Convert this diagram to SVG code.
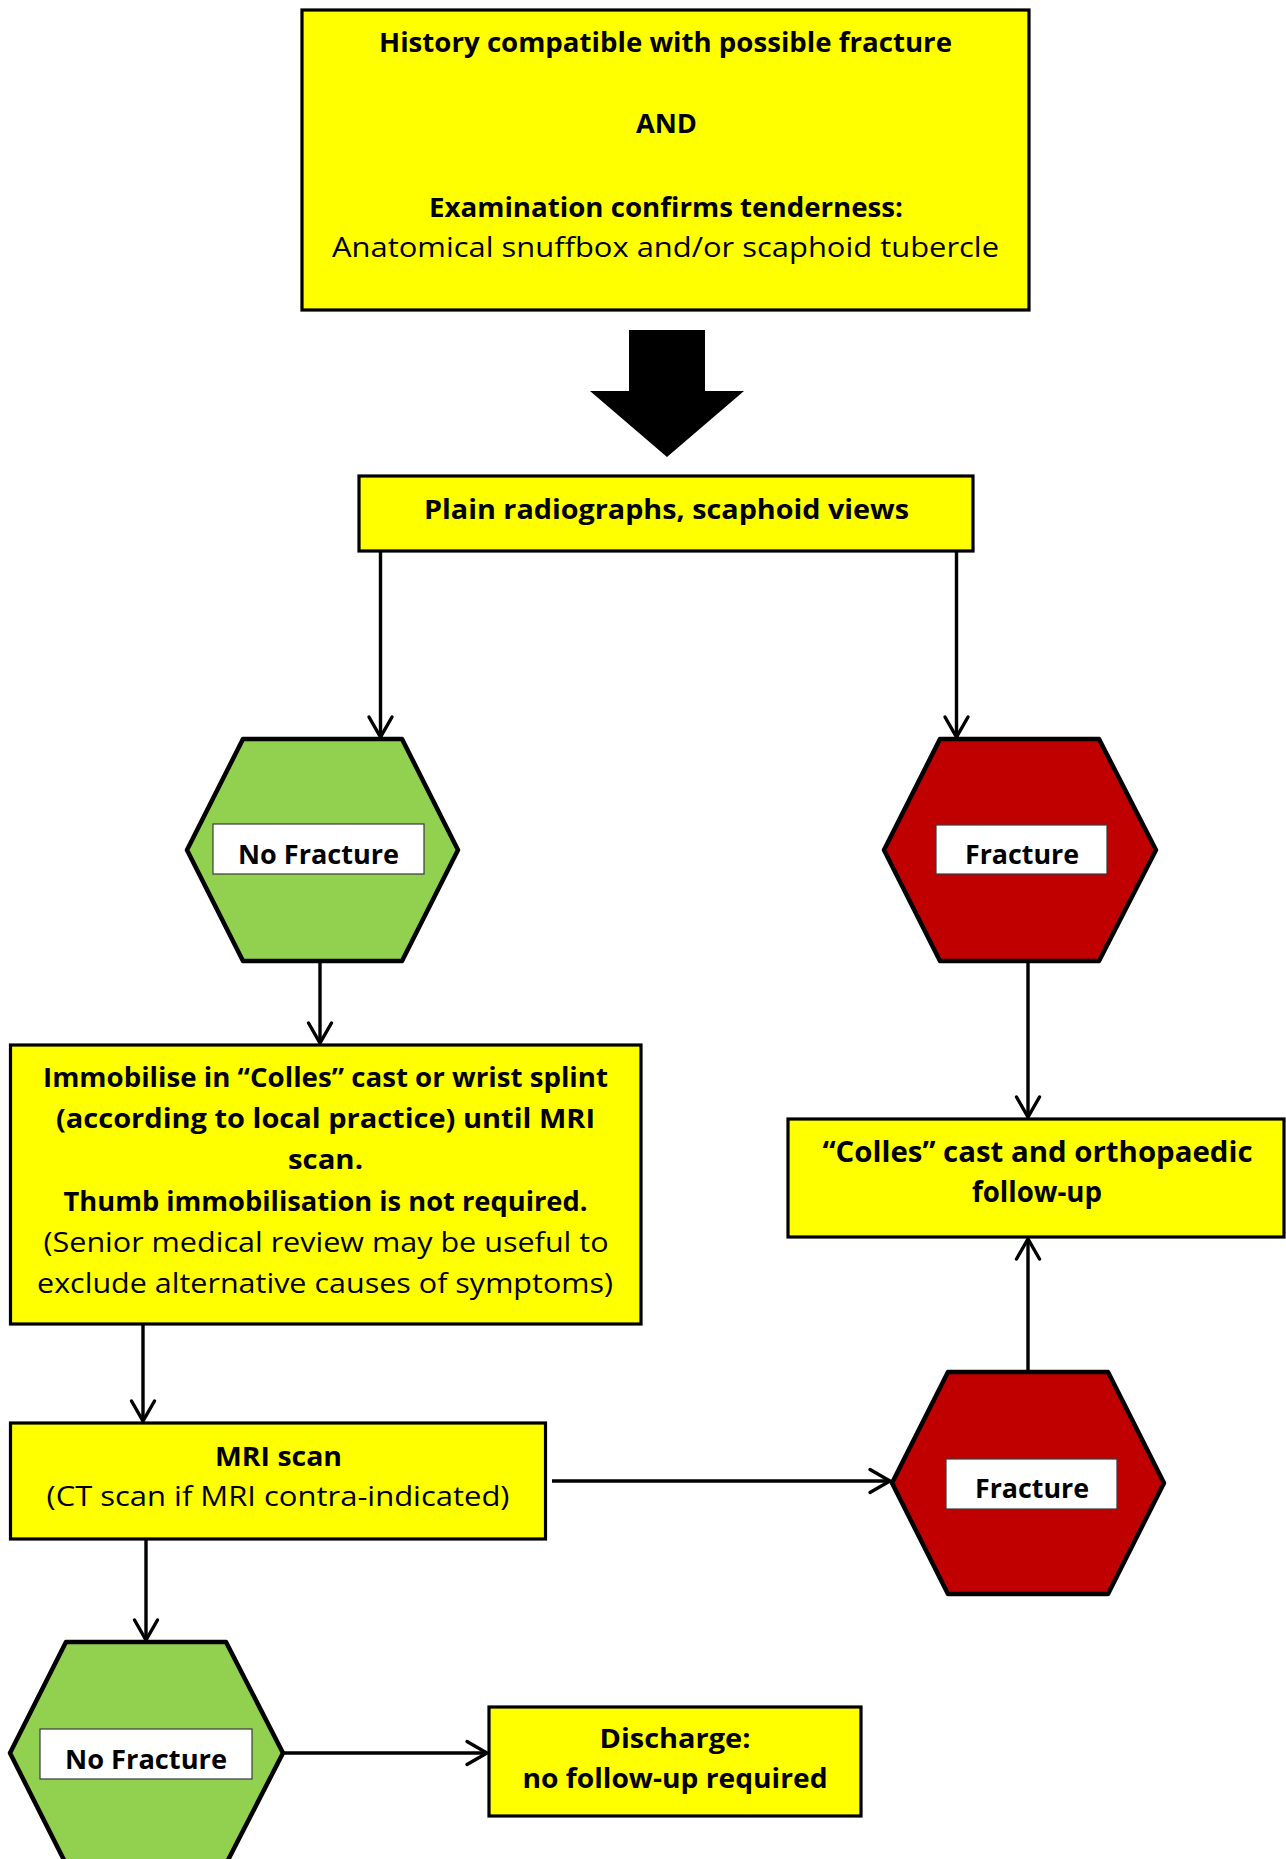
<svg xmlns="http://www.w3.org/2000/svg" width="1286" height="1859" viewBox="0 0 1286 1859">
<style>
  .box{fill:#FFFF00;stroke:#000;stroke-width:3.2}
  .hexg{fill:#92D050;stroke:#000;stroke-width:4.5;stroke-linejoin:round}
  .hexr{fill:#C00000;stroke:#000;stroke-width:4.5;stroke-linejoin:round}
  .lbl{fill:#fff;stroke:#3a3a3a;stroke-width:1.2}
  text{font-family:"Open Sans","DejaVu Sans",sans-serif;fill:#000;text-anchor:middle}
  .b{font-weight:700;font-size:26.5px}
  .r{font-weight:400;font-size:26.5px}
  .h{font-weight:700;font-size:27px}
  .c{font-weight:700;font-size:28px}
  .conn{fill:none;stroke:#000;stroke-width:3.4;marker-end:url(#arr)}
</style>
<defs>
  <marker id="arr" markerUnits="userSpaceOnUse" viewBox="-24 -15 29 30" markerWidth="29" markerHeight="30" refX="0" refY="0" orient="auto">
    <path d="M-20,-11.5 L0,0 L-20,11.5" fill="none" stroke="#000" stroke-width="3.4" stroke-linecap="round"/>
  </marker>
</defs>

<g id="connectors">
  <path class="conn" d="M380.5,551 V737"/>
  <path class="conn" d="M956.5,551 V737"/>
  <path class="conn" d="M320,962 V1043"/>
  <path class="conn" d="M1028,962 V1117"/>
  <path class="conn" d="M1028,1371 V1239"/>
  <path class="conn" d="M143,1325 V1421"/>
  <path class="conn" d="M146,1540 V1640"/>
  <path class="conn" d="M552,1481 H890"/>
  <path class="conn" d="M284,1753 H487"/>
</g>

<g id="start">
  <rect class="box" x="302" y="10" width="727" height="300"/>
  <text class="b" x="665.5" y="52" textLength="573" lengthAdjust="spacingAndGlyphs">History compatible with possible fracture</text>
  <text class="b" x="666.5" y="133" textLength="61" lengthAdjust="spacingAndGlyphs">AND</text>
  <text class="b" x="666" y="217" textLength="474" lengthAdjust="spacingAndGlyphs">Examination confirms tenderness:</text>
  <text class="r" x="665.5" y="257" textLength="667" lengthAdjust="spacingAndGlyphs">Anatomical snuffbox and/or scaphoid tubercle</text>
</g>

<g id="big-arrow">
  <polygon points="629,330 705,330 705,391 744,391 667,457 590,391 629,391" fill="#000"/>
</g>

<g id="radiographs">
  <rect class="box" x="359" y="476" width="614" height="75"/>
  <text class="b" x="666.5" y="519" textLength="485" lengthAdjust="spacingAndGlyphs">Plain radiographs, scaphoid views</text>
</g>

<g id="no-fracture-1">
  <polygon class="hexg" points="243,739 402,739 458,850 402,961 243,961 187,850"/>
  <rect class="lbl" x="213" y="824" width="211" height="50"/>
  <text class="h" x="318.5" y="864" textLength="161" lengthAdjust="spacingAndGlyphs">No Fracture</text>
</g>

<g id="fracture-1">
  <polygon class="hexr" points="940,739 1099,739 1156,850 1099,961 940,961 884,850"/>
  <rect class="lbl" x="936" y="825" width="171" height="49"/>
  <text class="h" x="1022" y="864" textLength="114" lengthAdjust="spacingAndGlyphs">Fracture</text>
</g>

<g id="immobilise">
  <rect class="box" x="10.5" y="1045" width="630.5" height="279"/>
  <text class="b" x="325.5" y="1087" textLength="565" lengthAdjust="spacingAndGlyphs">Immobilise in “Colles” cast or wrist splint</text>
  <text class="b" x="325.5" y="1128" textLength="539" lengthAdjust="spacingAndGlyphs">(according to local practice) until MRI</text>
  <text class="b" x="325.5" y="1169" textLength="75" lengthAdjust="spacingAndGlyphs">scan.</text>
  <text class="b" x="325.5" y="1211" textLength="524" lengthAdjust="spacingAndGlyphs">Thumb immobilisation is not required.</text>
  <text class="r" x="326" y="1252" textLength="565" lengthAdjust="spacingAndGlyphs">(Senior medical review may be useful to</text>
  <text class="r" x="325" y="1293" textLength="576" lengthAdjust="spacingAndGlyphs">exclude alternative causes of symptoms)</text>
</g>

<g id="colles">
  <rect class="box" x="788" y="1119" width="496" height="118"/>
  <text class="c" x="1037.5" y="1162" textLength="430" lengthAdjust="spacingAndGlyphs">“Colles” cast and orthopaedic</text>
  <text class="c" x="1037" y="1202" textLength="130" lengthAdjust="spacingAndGlyphs">follow-up</text>
</g>

<g id="mri">
  <rect class="box" x="10.5" y="1423" width="535" height="116"/>
  <text class="b" x="278.5" y="1466" textLength="127" lengthAdjust="spacingAndGlyphs">MRI scan</text>
  <text class="r" x="278" y="1506" textLength="463" lengthAdjust="spacingAndGlyphs">(CT scan if MRI contra-indicated)</text>
</g>

<g id="fracture-2">
  <polygon class="hexr" points="948,1372 1108,1372 1164,1483 1108,1594 948,1594 892,1483"/>
  <rect class="lbl" x="946" y="1459" width="171" height="50"/>
  <text class="h" x="1032" y="1498" textLength="114" lengthAdjust="spacingAndGlyphs">Fracture</text>
</g>

<g id="no-fracture-2">
  <polygon class="hexg" points="66,1642 226,1642 283,1753 226,1864 66,1864 10,1753"/>
  <rect class="lbl" x="40" y="1729" width="212" height="50"/>
  <text class="h" x="146" y="1769" textLength="162" lengthAdjust="spacingAndGlyphs">No Fracture</text>
</g>

<g id="discharge">
  <rect class="box" x="489" y="1707" width="372" height="109"/>
  <text class="b" x="675" y="1748" textLength="151" lengthAdjust="spacingAndGlyphs">Discharge:</text>
  <text class="b" x="675" y="1788" textLength="305" lengthAdjust="spacingAndGlyphs">no follow-up required</text>
</g>
</svg>
